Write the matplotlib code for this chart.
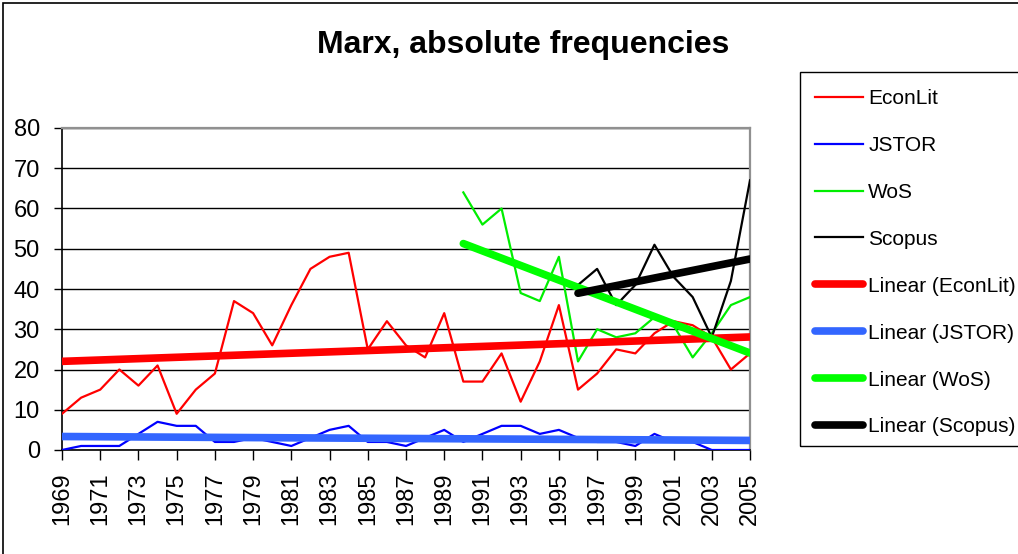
import matplotlib
matplotlib.use("Agg")
import matplotlib.pyplot as plt
from matplotlib.patches import Rectangle
import numpy as np

plt.rcParams["font.family"] = ["Liberation Sans", "DejaVu Sans"]

# ---- data ----
years = list(range(1969, 2006))
econlit = [9, 13, 15, 20, 16, 21, 9, 15, 19, 37,
           34, 26, 36, 45, 48, 49, 25, 32, 26, 23,
           34, 17, 17, 24, 12, 22, 36, 15, 19, 25,
           24, 29, 32, 31, 28, 20, 24]
jstor = [0, 1, 1, 1, 4, 7, 6, 6, 2, 2,
         3, 2, 1, 3, 5, 6, 2, 2, 1, 3,
         5, 2, 4, 6, 6, 4, 5, 3, 2, 2,
         1, 4, 2, 2, 0, 0, 0]
wos_years = list(range(1990, 2006))
wos = [64, 56, 60, 39, 37, 48, 22, 30, 28, 29, 33, 31, 23, 29, 36, 38]
scopus_years = list(range(1996, 2006))
scopus = [41, 45, 36, 41, 51, 43, 38, 28, 42, 67]

series = [
    ("EconLit", years, econlit, "#ff0000", "#ff0000"),
    ("JSTOR", years, jstor, "#0000ff", "#3366ff"),
    ("WoS", wos_years, wos, "#00ee00", "#00ff00"),
    ("Scopus", scopus_years, scopus, "#000000", "#000000"),
]

W, H = 1018, 554
fig = plt.figure(figsize=(W / 100, H / 100), dpi=100)
ax = fig.add_axes([62 / W, 104 / H, 688 / W, 322 / H])

handles = []
for name, xs, ys, col, _ in series:
    h, = ax.plot(xs, ys, color=col, linewidth=1.6, label=name, zorder=3)
    handles.append(h)

# Excel-style linear trendlines, fitted on the data
for name, xs, ys, _, tcol in series:
    k, b = np.polyfit(xs, ys, 1)
    xt = np.array([xs[0], xs[-1]], dtype=float)
    h, = ax.plot(xt, k * xt + b, color=tcol, linewidth=5.5,
                 solid_capstyle="round", label=f"Linear ({name})", zorder=4)
    handles.append(h)

ax.set_xlim(1969, 2005)
ax.set_ylim(0, 80)
ax.set_yticks(range(0, 81, 10))
ax.set_xticks(years[::2])
ax.set_xticklabels([str(y) for y in years[::2]], rotation=90)
ax.tick_params(axis="y", direction="out", length=6, width=1, pad=10, labelsize=17)
ax.tick_params(axis="x", direction="out", length=7, width=1, pad=9, labelsize=17)
ax.grid(True, axis="y", color="black", linewidth=1)
ax.set_axisbelow(True)
for side in ("left", "bottom"):
    ax.spines[side].set_color("black")
    ax.spines[side].set_linewidth(1.2)
for side in ("top", "right"):
    ax.spines[side].set_color("#909090")
    ax.spines[side].set_linewidth(1.6)

fig.text(523 / W, 1 - 45 / H, "Marx, absolute frequencies", ha="center", va="center",
         fontsize=23, fontweight="bold")

# legend entries without their own frame; the box is drawn separately
leg = fig.legend(handles=handles, loc="upper left", bbox_to_anchor=(815 / W, 1 - 89 / H),
                 bbox_transform=fig.transFigure, fontsize=15, frameon=False,
                 borderaxespad=0, borderpad=0, labelspacing=1.34,
                 handlelength=2.3, handletextpad=0.25)
fig.patches.append(Rectangle((800 / W, 1 - 446 / H), 0.5, (446 - 72) / H,
                             transform=fig.transFigure, fill=False,
                             edgecolor="black", linewidth=1.0, zorder=0))

# outer chart border
fig.patches.append(Rectangle((3 / W, -0.05), 1.2, 1 - 3 / H + 0.05, transform=fig.transFigure,
                             fill=False, edgecolor="black", linewidth=1.2))

fig.savefig("out.png", dpi=100)
